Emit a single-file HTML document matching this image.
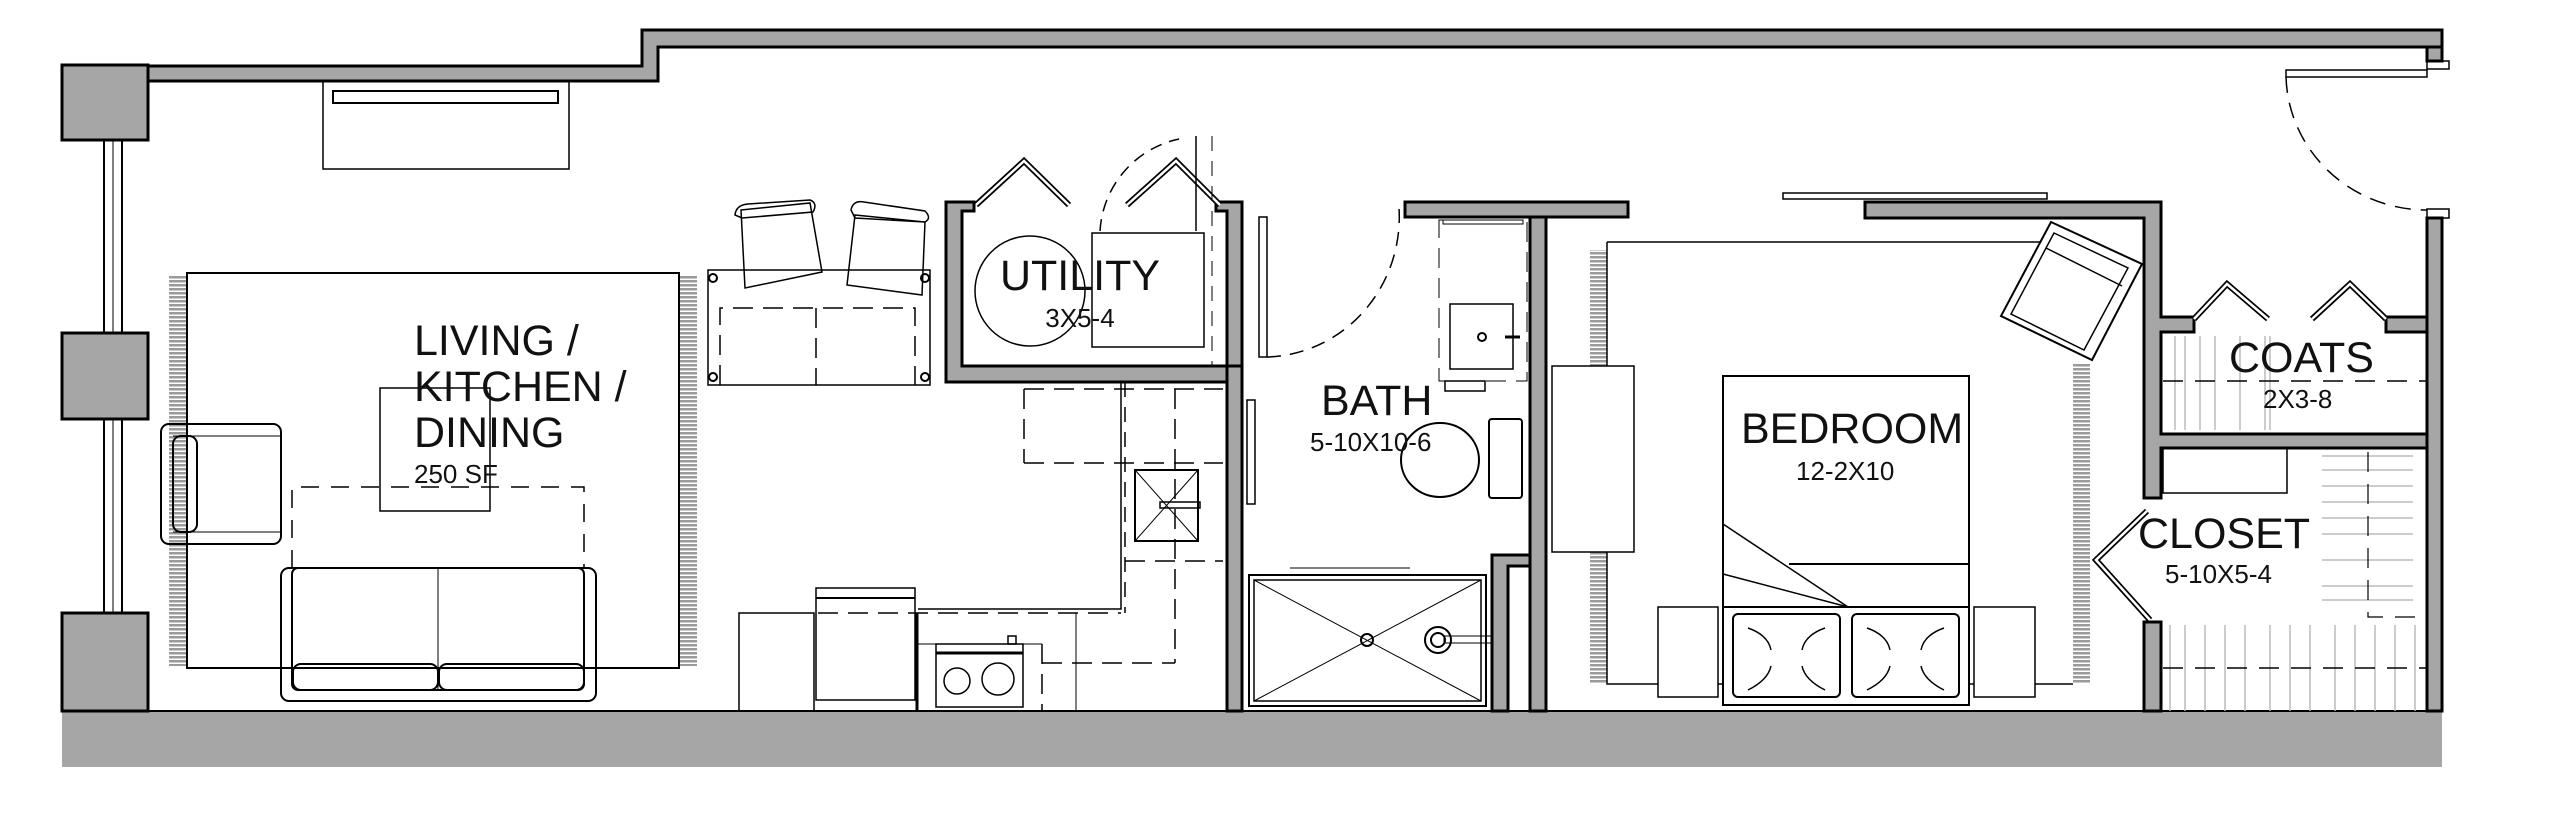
<!DOCTYPE html>
<html><head><meta charset="utf-8"><style>
html,body{margin:0;padding:0;background:#fff;}
svg{display:block;}
text{font-family:"Liberation Sans",Arial,sans-serif;fill:#111;}
.big{font-size:43px;}
.sm{font-size:26px;}
</style></head><body>
<svg width="2560" height="813" viewBox="0 0 2560 813" xmlns="http://www.w3.org/2000/svg">
<defs>
<pattern id="fr" width="17" height="4" patternUnits="userSpaceOnUse">
<rect width="17" height="4" fill="#fff"/>
<rect width="17" height="2.5" fill="#9a9a9a"/>
</pattern>
</defs>
<g stroke="#000" stroke-width="3" fill="#a6a6a6">
<rect x="62" y="711" width="2380" height="56" stroke="none"/>
<line x1="148" y1="711" x2="2442" y2="711" stroke-width="2"/>
<rect x="62" y="65" width="86" height="75"/>
<rect x="62" y="333" width="86" height="86"/>
<rect x="62" y="613" width="86" height="98"/>
<polygon points="148,66 642,66 642,30 2442,30 2442,47 658,47 658,81 148,81"/>
<rect x="2427" y="47" width="15" height="14"/>
<path d="M946,202 L974,202 L974,211 L962,211 L962,366 L1227,366 L1227,211 L1216,211 L1216,202 L1242,202 L1242,382 L946,382 Z"/>
<rect x="1227" y="366" width="15" height="345"/>
<rect x="1405" y="202" width="223" height="15"/>
<rect x="1530" y="217" width="16" height="494"/>
<path d="M1492,711 L1492,555 L1530,555 L1530,566 L1508,566 L1508,711 Z"/>
<path d="M1865,202 L2161,202 L2161,317 L2194,317 L2194,332 L2161,332 L2161,434 L2427,434 L2427,448 L2161,448 L2161,498 L2144,498 L2144,218 L1865,218 Z"/>
<rect x="2386" y="317" width="41" height="15"/>
<rect x="2144" y="622" width="17" height="89"/>
<rect x="2427" y="218" width="15" height="493"/>
</g>
<rect x="169" y="275" width="18" height="391" fill="url(#fr)"/>
<rect x="679" y="275" width="18" height="391" fill="url(#fr)"/>
<rect x="1590" y="250" width="17" height="116" fill="url(#fr)"/>
<rect x="1590" y="552" width="17" height="132" fill="url(#fr)"/>
<rect x="2073" y="364" width="17" height="320" fill="url(#fr)"/>
<g fill="none" stroke="#000" stroke-width="2">
<rect x="104" y="140" width="18" height="193"/>
<line x1="113" y1="140" x2="113" y2="333" stroke-width="1"/>
<rect x="104" y="419" width="18" height="194"/>
<line x1="113" y1="419" x2="113" y2="613" stroke-width="1"/>
<rect x="323" y="81" width="246" height="88" stroke-width="1.5"/>
<rect x="333" y="91" width="225" height="12"/>
<rect x="187" y="273" width="492" height="395" stroke-width="2"/>
<rect x="380" y="388" width="110" height="123" stroke-width="1.5"/>
<rect x="161" y="424" width="120" height="120" rx="8"/>
<rect x="173" y="436" width="24" height="96" rx="8"/>
<line x1="173" y1="436" x2="281" y2="436" stroke-width="1"/>
<line x1="173" y1="532" x2="281" y2="532" stroke-width="1"/>
<rect x="281" y="568" width="315" height="133" rx="8"/>
<rect x="292" y="568" width="292" height="122" rx="6"/>
<rect x="293" y="664" width="145" height="26" rx="8"/>
<rect x="439" y="664" width="145" height="26" rx="8"/>
<line x1="438" y1="568" x2="438" y2="690" stroke-width="1"/>
<path d="M292,568 V487 H584 V568" stroke-dasharray="18,12" stroke-width="1.5"/>
<rect x="708" y="270" width="222" height="115" stroke-width="1.5"/>
<circle cx="713" cy="278" r="4"/><circle cx="713" cy="377" r="4"/>
<circle cx="925" cy="278" r="4"/><circle cx="925" cy="377" r="4"/>
<path d="M720,385 V308 H915 V385 M816,308 V385" stroke-dasharray="20,10" stroke-width="1.5"/>
<path d="M741,210 L810,203 L822,272 L745,288 Z" stroke-width="1.5"/>
<path d="M735,215 Q736,205 748,204 L810,200 Q818,203 813,212 L742,218 Z" stroke-width="1.5"/>
<path d="M855,215 L925,222 L922,295 L847,285 Z" stroke-width="1.5"/>
<path d="M851,210 Q853,200 864,202 L925,211 Q932,218 925,222 L855,218 Z" stroke-width="1.5"/>
<circle cx="1030" cy="291" r="55" stroke-width="1.5"/>
<rect x="1092" y="233" width="112" height="114" stroke-width="1.5"/>
<path d="M976,205 L1024,161 L1069,205" stroke-width="6"/>
<path d="M976,205 L1024,161 L1069,205" stroke="#fff" stroke-width="2.5"/>
<path d="M1127,205 L1176,161 L1220,205" stroke-width="6"/>
<path d="M1127,205 L1176,161 L1220,205" stroke="#fff" stroke-width="2.5"/>
<path d="M1100,231 A100,100 0 0 1 1179,139" stroke-dasharray="12,8" stroke-width="1.5"/>
<line x1="1196" y1="136" x2="1196" y2="231" stroke-width="1.5"/>
<line x1="1212" y1="136" x2="1212" y2="366" stroke-dasharray="15,10" stroke-width="1"/>
<path d="M918,609 H1121 V382" stroke-width="1.5"/>
<line x1="1125" y1="382" x2="1125" y2="613" stroke-dasharray="15,10" stroke-width="1.5"/>
<path d="M1024,389 H1223 M1024,463 H1223 M1024,389 V463" stroke-dasharray="20,10" stroke-width="1.5"/>
<rect x="1135" y="470" width="63" height="71" stroke-width="2"/>
<path d="M1135,470 L1198,541 M1198,470 L1135,541" stroke-width="1"/>
<rect x="1160" y="502" width="40" height="6" stroke-width="1.5"/>
<path d="M1125,561 H1223 M1175,389 V663 M1042,663 H1175" stroke-dasharray="20,10" stroke-width="1.5"/>
<line x1="818" y1="613" x2="1121" y2="613" stroke-dasharray="20,10" stroke-width="1.5"/>
<rect x="739" y="613" width="75" height="98" stroke-width="1.5"/>
<rect x="816" y="588" width="99" height="112" stroke-width="1.5"/>
<line x1="816" y1="598" x2="915" y2="598"/>
<line x1="917" y1="613" x2="917" y2="711" stroke-width="3"/>
<rect x="936" y="644" width="87" height="63" stroke-width="1.5"/>
<line x1="936" y1="653" x2="1023" y2="653" stroke-width="3"/>
<rect x="1008" y="636" width="8" height="8" stroke-width="1.5"/>
<circle cx="957" cy="681" r="13" stroke-width="1.5"/>
<circle cx="998" cy="679" r="16" stroke-width="1.5"/>
<line x1="917" y1="644" x2="1042" y2="644" stroke-width="1"/>
<line x1="1042" y1="644" x2="1042" y2="711" stroke-dasharray="20,10" stroke-width="1.5"/>
<line x1="1076" y1="613" x2="1076" y2="711" stroke-width="1"/>
<rect x="1259" y="217" width="8" height="140" stroke-width="1.5"/>
<path d="M1267,357 A136,140 0 0 0 1399,208" stroke-dasharray="14,9" stroke-width="1.5"/>
<rect x="1247" y="400" width="8" height="104" stroke-width="1.5"/>
<rect x="1439" y="220" width="88" height="161" stroke-width="1" stroke-dasharray="20,10"/>
<rect x="1450" y="304" width="63" height="65" stroke-width="1.5"/>
<circle cx="1482" cy="337" r="4"/>
<line x1="1505" y1="337" x2="1520" y2="337" stroke-width="3"/>
<rect x="1443" y="220" width="80" height="4" stroke-width="1"/>
<rect x="1445" y="381" width="40" height="10" stroke-width="1.5"/>
<ellipse cx="1440" cy="460" rx="39" ry="37" stroke-width="2"/>
<rect x="1489" y="419" width="33" height="79" rx="3" stroke-width="2"/>
<rect x="1249" y="575" width="237" height="131" stroke-width="2"/>
<rect x="1254" y="580" width="227" height="121" stroke-width="1.5"/>
<path d="M1254,580 L1481,701 M1481,580 L1254,701" stroke-width="1"/>
<circle cx="1367" cy="640" r="6"/>
<circle cx="1438" cy="640" r="13" stroke-width="2"/><circle cx="1438" cy="640" r="7"/>
<rect x="1444" y="636" width="48" height="7" stroke-width="1"/>
<line x1="1290" y1="568" x2="1410" y2="568" stroke-width="1"/>
<rect x="1783" y="193" width="264" height="6" stroke-width="1.5"/>
<path d="M1607,242 H2073 M1607,242 V684 H2073" stroke-width="1.5"/>
<rect x="1552" y="366" width="82" height="186" stroke-width="1.5" fill="#fff"/>
<rect x="1658" y="607" width="60" height="90" stroke-width="1.5" fill="#fff"/>
<rect x="1974" y="607" width="61" height="90" stroke-width="1.5" fill="#fff"/>
<rect x="1723" y="376" width="246" height="329" stroke-width="2" fill="#fff"/>
<line x1="1789" y1="564" x2="1969" y2="564"/>
<line x1="1723" y1="607" x2="1969" y2="607"/>
<path d="M1723,524 L1848,607 M1723,574 L1848,607" stroke-width="1.5"/>
<rect x="1733" y="614" width="107" height="83" rx="5" stroke-width="2"/>
<rect x="1852" y="614" width="107" height="83" rx="5" stroke-width="2"/>
<path d="M1748,628 Q1768,635 1771,650 M1825,628 Q1805,635 1802,650 M1748,690 Q1768,680 1771,666 M1825,690 Q1805,680 1802,666" stroke-width="1.5"/>
<path d="M1867,628 Q1887,635 1890,650 M1944,628 Q1924,635 1921,650 M1867,690 Q1887,680 1890,666 M1944,690 Q1924,680 1921,666" stroke-width="1.5"/>
<polygon points="2051,222 2142,264 2092,360 2001,316" stroke-width="2" fill="#fff"/>
<polygon points="2054,233 2128,268 2084,350 2011,314" stroke-width="1.5"/>
<line x1="2046" y1="248" x2="2122" y2="286" stroke-width="1.5"/>
<rect x="2286" y="70" width="141" height="7" stroke-width="1.5"/>
<rect x="2427" y="61" width="22" height="8" stroke-width="1.5"/>
<rect x="2427" y="209" width="22" height="9" stroke-width="1.5"/>
<path d="M2286,77 A141,137 0 0 0 2427,210" stroke-dasharray="16,10" stroke-width="1.5"/>
<path d="M2194,319 L2227,284 L2268,319" stroke-width="6"/>
<path d="M2194,319 L2227,284 L2268,319" stroke="#fff" stroke-width="2.5"/>
<path d="M2312,319 L2350,284 L2386,319" stroke-width="6"/>
<path d="M2312,319 L2350,284 L2386,319" stroke="#fff" stroke-width="2.5"/>
<g stroke="#bbb" stroke-width="1.5">
<line x1="2175" y1="336" x2="2175" y2="430"/><line x1="2185" y1="336" x2="2185" y2="430"/>
<line x1="2200" y1="336" x2="2200" y2="430"/><line x1="2215" y1="336" x2="2215" y2="430"/>
<line x1="2240" y1="336" x2="2240" y2="430"/><line x1="2265" y1="336" x2="2265" y2="430"/>
<line x1="2270" y1="336" x2="2270" y2="430"/>
</g>
<line x1="2163" y1="381" x2="2427" y2="381" stroke-dasharray="20,12" stroke-width="1.5"/>
<rect x="2163" y="448" width="124" height="45" stroke-width="1.5"/>
<path d="M2147,511 L2096,560 L2150,620" stroke-width="6"/>
<path d="M2147,511 L2096,560 L2150,620" stroke="#fff" stroke-width="2.5"/>
<g stroke="#bbb" stroke-width="1.5">
<line x1="2322" y1="456" x2="2413" y2="456"/><line x1="2322" y1="470" x2="2413" y2="470"/>
<line x1="2322" y1="486" x2="2413" y2="486"/><line x1="2322" y1="502" x2="2413" y2="502"/>
<line x1="2322" y1="518" x2="2413" y2="518"/><line x1="2322" y1="534" x2="2413" y2="534"/>
<line x1="2322" y1="560" x2="2413" y2="560"/><line x1="2322" y1="586" x2="2413" y2="586"/>
<line x1="2322" y1="600" x2="2413" y2="600"/>
<line x1="2170" y1="625" x2="2170" y2="711"/><line x1="2185" y1="625" x2="2185" y2="711"/>
<line x1="2205" y1="625" x2="2205" y2="711"/><line x1="2225" y1="625" x2="2225" y2="711"/>
<line x1="2245" y1="625" x2="2245" y2="711"/><line x1="2270" y1="625" x2="2270" y2="711"/>
<line x1="2290" y1="625" x2="2290" y2="711"/><line x1="2310" y1="625" x2="2310" y2="711"/>
<line x1="2335" y1="625" x2="2335" y2="711"/><line x1="2355" y1="625" x2="2355" y2="711"/>
<line x1="2375" y1="625" x2="2375" y2="711"/><line x1="2395" y1="625" x2="2395" y2="711"/>
<line x1="2415" y1="625" x2="2415" y2="711"/>
</g>
<path d="M2368,452 V617 H2427" stroke-dasharray="20,12" stroke-width="1.2"/>
<line x1="2163" y1="668" x2="2427" y2="668" stroke-dasharray="20,12" stroke-width="1.5"/>
</g>
<text class="big" x="414" y="355">LIVING /</text>
<text class="big" x="414" y="401">KITCHEN /</text>
<text class="big" x="414" y="447">DINING</text>
<text class="sm" x="414" y="483">250 SF</text>
<text class="big" x="1080" y="290" text-anchor="middle">UTILITY</text>
<text class="sm" x="1080" y="327" text-anchor="middle">3X5-4</text>
<text class="big" x="1321" y="415">BATH</text>
<text class="sm" x="1310" y="451">5-10X10-6</text>
<text class="big" x="1741" y="443">BEDROOM</text>
<text class="sm" x="1796" y="480">12-2X10</text>
<text class="big" x="2229" y="372">COATS</text>
<text class="sm" x="2263" y="408">2X3-8</text>
<text class="big" x="2138" y="548">CLOSET</text>
<text class="sm" x="2165" y="583">5-10X5-4</text>
</svg>
</body></html>
